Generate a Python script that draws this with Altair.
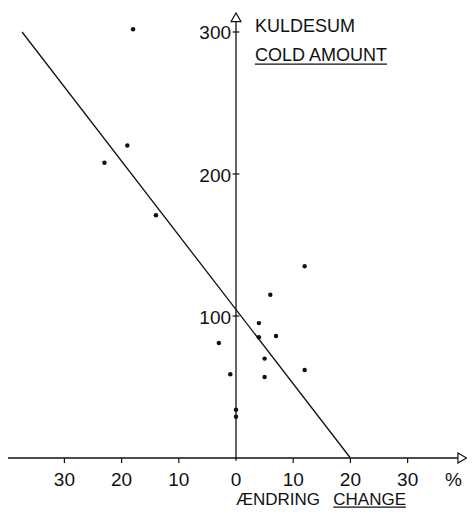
import altair as alt
import pandas as pd

# ---- data ----
pt_x = [-18, -23, -19, -14, -3, -1, 0, 0, 12, 6, 4, 4, 7, 5, 5, 12]
pt_y = [302, 208, 220, 171, 81, 59, 34, 29, 135, 115, 95, 85, 86, 70, 57, 62]

fit_x = [-37.4, 20.0]
fit_y = [300, 0]

x_ticks = [-30, -20, -10, 10, 20, 30]
x_tick_labels = ["30", "20", "10", "10", "20", "30"]
y_ticks = [100, 200, 300]
y_tick_labels = ["100", "200", "300"]

# ---- scales ----
X_MIN, X_MAX = -39.86, 40.38
Y_MIN, Y_MAX = -35.9, 316.9
xs = alt.Scale(domain=[X_MIN, X_MAX], nice=False, zero=False)
ys = alt.Scale(domain=[Y_MIN, Y_MAX], nice=False, zero=False)

INK = "#111111"
FONT = "Liberation Sans"


def X(f="x"):
    return alt.X(f"{f}:Q", scale=xs, axis=None)


def Y(f="y"):
    return alt.Y(f"{f}:Q", scale=ys, axis=None)


# axis lines
axes_df = pd.DataFrame({
    "x": [X_MIN, 0], "x2": [38.8, 0],
    "y": [0, -2], "y2": [0, 307.5],
})
axes = alt.Chart(axes_df).mark_rule(color=INK, strokeWidth=1.3).encode(
    x=X(), x2="x2:Q", y=Y(), y2="y2:Q")

# tick marks
xt_df = pd.DataFrame({"x": x_ticks, "y": [0] * len(x_ticks), "y2": [-3.5] * len(x_ticks)})
xtick = alt.Chart(xt_df).mark_rule(color=INK, strokeWidth=1.2).encode(
    x=X(), y=Y(), y2="y2:Q")
yt_df = pd.DataFrame({"y": y_ticks, "x": [-0.6] * 3, "x2": [0.6] * 3})
ytick = alt.Chart(yt_df).mark_rule(color=INK, strokeWidth=1.2).encode(
    x=X(), x2="x2:Q", y=Y())

# arrows
arr_up = alt.Chart(pd.DataFrame({"x": [0], "y": [310.3]})).mark_point(
    shape="triangle-up", filled=False, color=INK, strokeWidth=1.2, size=100, opacity=1
).encode(x=X(), y=Y())
arr_right = alt.Chart(pd.DataFrame({"x": [39.55], "y": [0]})).mark_point(
    shape="triangle-right", filled=False, color=INK, strokeWidth=1.2, size=100, opacity=1
).encode(x=X(), y=Y())

# points
pts = alt.Chart(pd.DataFrame({"x": pt_x, "y": pt_y})).mark_circle(
    color=INK, size=20, opacity=1).encode(x=X(), y=Y())

# fitted line
fit = alt.Chart(pd.DataFrame({"x": fit_x, "y": fit_y})).mark_line(
    color=INK, strokeWidth=1.3).encode(x=X(), y=Y())

# tick labels
xl_df = pd.DataFrame({"x": x_ticks + [0], "y": [-19.7] * 7, "t": x_tick_labels + ["0"]})
xlab = alt.Chart(xl_df).mark_text(
    font=FONT, fontSize=19, color=INK, align="center", baseline="alphabetic"
).encode(x=X(), y=Y(), text="t:N")
yl_df = pd.DataFrame({"x": [0] * 3, "y": y_ticks, "t": y_tick_labels})
ylab = alt.Chart(yl_df).mark_text(
    font=FONT, fontSize=19, color=INK, align="right", baseline="middle", dx=-5, dy=1.5
).encode(x=X(), y=Y(), text="t:N")

# titles
top_df = pd.DataFrame({
    "x": [3.3, 3.3],
    "y": [300.0, 279.6],
    "t": ["KULDESUM", "COLD AMOUNT"],
})
top_titles = alt.Chart(top_df).mark_text(
    font=FONT, fontSize=18, color=INK, align="left", baseline="alphabetic"
).encode(x=X(), y=Y(), text="t:N")

bot_df = pd.DataFrame({
    "x": [0.0, 17.0],
    "y": [-33.1, -33.1],
    "t": ["ÆNDRING", "CHANGE"],
})
bot_titles = alt.Chart(bot_df).mark_text(
    font=FONT, fontSize=17, color=INK, align="left", baseline="alphabetic"
).encode(x=X(), y=Y(), text="t:N")

pct = alt.Chart(pd.DataFrame({"x": [38.0], "y": [-19.7], "t": ["%"]})).mark_text(
    font=FONT, fontSize=19, color=INK, align="center", baseline="alphabetic"
).encode(x=X(), y=Y(), text="t:N")

# underlines
ul_df = pd.DataFrame({"x": [3.3, 17.0], "x2": [26.4, 29.7], "y": [277.4, -34.6]})
ul = alt.Chart(ul_df).mark_rule(color=INK, strokeWidth=1.1).encode(
    x=X(), x2="x2:Q", y=Y())

chart = alt.layer(
    axes, xtick, ytick, arr_up, arr_right, fit, pts, xlab, ylab,
    top_titles, bot_titles, pct, ul
).properties(
    width=459, height=501, padding=0, autosize="none", background="white"
).configure_view(stroke=None)

chart.save("out.html", embed_options={"renderer": "svg", "actions": False})
